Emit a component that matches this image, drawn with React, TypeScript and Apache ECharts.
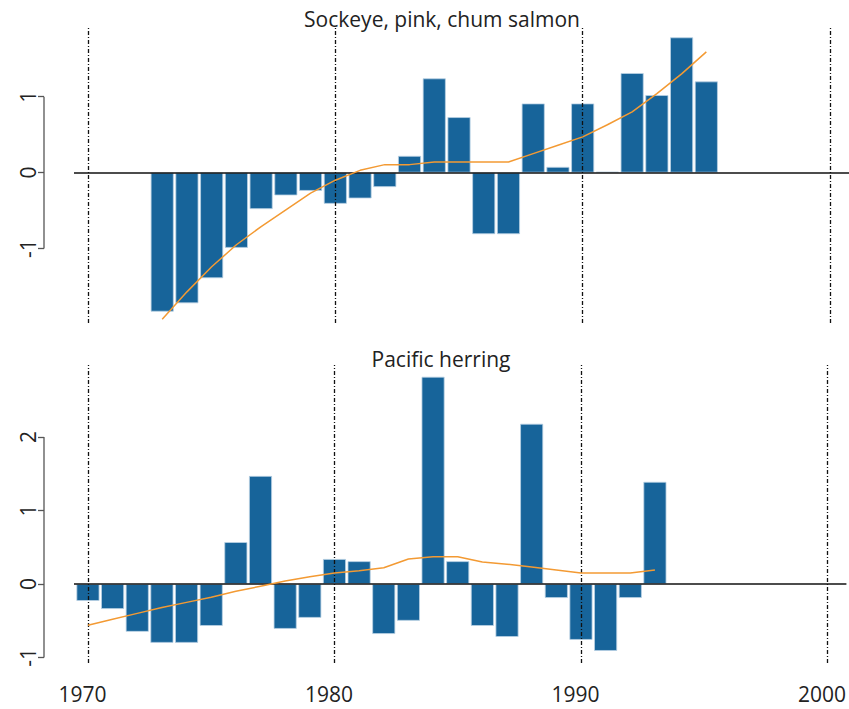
import React, { useEffect, useRef } from "react";
import * as echarts from "echarts";

const salmonYears = [1973, 1974, 1975, 1976, 1977, 1978, 1979, 1980, 1981, 1982, 1983, 1984, 1985, 1986, 1987, 1988, 1989, 1990, 1991, 1992, 1993, 1994, 1995];
const salmonValues = [-1.83, -1.72, -1.39, -0.99, -0.48, -0.3, -0.24, -0.41, -0.34, -0.19, 0.22, 1.24, 0.73, -0.81, -0.81, 0.91, 0.075, 0.91, 0.01, 1.31, 1.02, 1.78, 1.2];
const salmonTrend = [-1.93, -1.57, -1.24, -0.95, -0.71, -0.49, -0.27, -0.1, 0.03, 0.105, 0.105, 0.14, 0.14, 0.14, 0.14, 0.25, 0.36, 0.47, 0.63, 0.8, 1.04, 1.3, 1.59];

const herringYears = [1970, 1971, 1972, 1973, 1974, 1975, 1976, 1977, 1978, 1979, 1980, 1981, 1982, 1983, 1984, 1985, 1986, 1987, 1988, 1989, 1990, 1991, 1992, 1993];
const herringValues = [-0.23, -0.34, -0.65, -0.8, -0.8, -0.57, 0.57, 1.47, -0.61, -0.46, 0.34, 0.31, -0.68, -0.5, 2.82, 0.31, -0.57, -0.72, 2.18, -0.19, -0.76, -0.91, -0.19, 1.39];
const herringTrend = [-0.56, -0.48, -0.4, -0.32, -0.25, -0.18, -0.1, -0.03, 0.04, 0.1, 0.15, 0.18, 0.22, 0.34, 0.37, 0.37, 0.3, 0.27, 0.23, 0.19, 0.15, 0.15, 0.15, 0.19];

const xTicks = [1970, 1980, 1990, 2000];
const xTickLabels = ["1970", "1980", "1990", "2000"];
const salmonYTicks = [-1, 0, 1];
const herringYTicks = [-1, 0, 1, 2];
const titles = ["Sockeye, pink, chum salmon", "Pacific herring"];

const FONT = "Open Sans";
const BAR = "#17649a";
const ORANGE = "#f39a33";

export default function App() {
  const ref = useRef<HTMLDivElement>(null);
  useEffect(() => {
    if (!ref.current) return;
    const chart = echarts.init(ref.current, undefined, { renderer: "svg" });
    const xMin = 1969.434;
    const xMax = 2000.768;
    const grids = [
      { left: 74, right: 0, top: 26, height: 297 },
      { left: 74, right: 0, top: 365, height: 298 },
    ];
    const yRanges = [
      { min: -1.98, max: 1.93, ticks: salmonYTicks },
      { min: -1.075, max: 2.98, ticks: herringYTicks },
    ];
    const markLine = {
      silent: true,
      symbol: ["none", "none"],
      label: { show: false },
      z: 5,
      data: [
        { yAxis: 0, lineStyle: { color: "#111", type: "solid", width: 1.5 } },
        ...xTicks.map((t) => ({ xAxis: t, lineStyle: { color: "#111", type: [4, 2, 1, 2], width: 1.3 } })),
      ],
    };
    const option: any = {
      animation: false,
      grid: grids,
      xAxis: [0, 1].map((i) => ({
        type: "value",
        gridIndex: i,
        min: xMin,
        max: xMax,
        axisLine: { show: false },
        axisTick: { show: false },
        splitLine: { show: false },
        axisLabel: {
          show: i === 1,
          customValues: xTicks,
          formatter: (v: number) => xTickLabels[xTicks.indexOf(Math.round(v))] ?? "",
          fontFamily: FONT,
          fontSize: 21,
          color: "#222",
          margin: 20,
          padding: [0, 11, 0, 0],
        },
      })),
      yAxis: [0, 1].map((i) => ({
        type: "value",
        gridIndex: i,
        min: yRanges[i].min,
        max: yRanges[i].max,
        offset: 30,
        axisLine: { show: false },
        splitLine: { show: false },
        axisTick: {
          show: true,
          customValues: yRanges[i].ticks,
          length: 6,
          lineStyle: { color: "#555", width: 1.3 },
        },
        axisLabel: {
          customValues: yRanges[i].ticks,
          formatter: (v: number) => String(v),
          rotate: 90,
          margin: 6,
          fontFamily: FONT,
          fontSize: 21,
          color: "#222",
        },
      })),
      series: [
        {
          type: "bar",
          xAxisIndex: 0,
          yAxisIndex: 0,
          barWidth: 23,
          itemStyle: { color: BAR, borderColor: "#b9d0e3", borderWidth: 0.8 },
          data: salmonYears.map((y, k) => [y, salmonValues[k]]),
          markLine,
        },
        {
          type: "line",
          xAxisIndex: 0,
          yAxisIndex: 0,
          showSymbol: false,
          z: 10,
          lineStyle: { color: ORANGE, width: 1.5 },
          data: salmonYears.map((y, k) => [y, salmonTrend[k]]),
        },
        {
          type: "bar",
          xAxisIndex: 1,
          yAxisIndex: 1,
          barWidth: 23,
          itemStyle: { color: BAR, borderColor: "#b9d0e3", borderWidth: 0.8 },
          data: herringYears.map((y, k) => [y, herringValues[k]]),
          markLine,
        },
        {
          type: "line",
          xAxisIndex: 1,
          yAxisIndex: 1,
          showSymbol: false,
          z: 10,
          lineStyle: { color: ORANGE, width: 1.5 },
          data: herringYears.map((y, k) => [y, herringTrend[k]]),
        },
      ],
    };
    chart.setOption(option);
    const graphics: any[] = [];
    [0, 1].forEach((i) => {
      const ticks = yRanges[i].ticks;
      const yTop = chart.convertToPixel({ yAxisIndex: i } as any, ticks[ticks.length - 1]) as number;
      const yBot = chart.convertToPixel({ yAxisIndex: i } as any, ticks[0]) as number;
      graphics.push({
        type: "line",
        shape: { x1: 44, y1: yTop, x2: 44, y2: yBot },
        style: { stroke: "#555", lineWidth: 1.3 },
      });
    });
    graphics.push({
      type: "text",
      x: 442,
      y: 19,
      style: { text: titles[0], fontFamily: FONT, fontSize: 21, fill: "#222", align: "center", verticalAlign: "middle" },
    });
    graphics.push({
      type: "text",
      x: 441,
      y: 359,
      style: { text: titles[1], fontFamily: FONT, fontSize: 21, fill: "#222", align: "center", verticalAlign: "middle" },
    });
    chart.setOption({ graphic: graphics });
    return () => chart.dispose();
  }, []);
  return <div ref={ref} style={{ width: 849, height: 709, position: "absolute", left: 0, top: 0 }} />;
}
